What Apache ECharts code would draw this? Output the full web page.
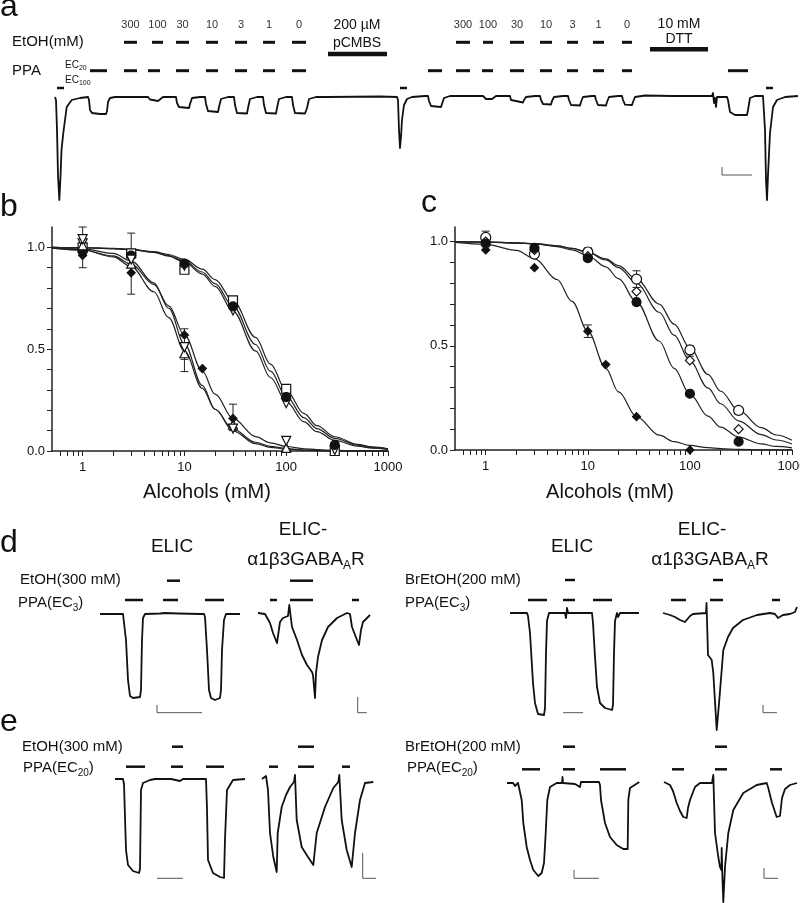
<!DOCTYPE html>
<html>
<head>
<meta charset="utf-8">
<script src="https://cdn.jsdelivr.net/npm/echarts@6/dist/echarts.min.js"></script>
<style>
  html, body { margin: 0; padding: 0; background: #fff; }
  #chart { width: 800px; height: 903px; }
</style>
</head>
<body>
<div id="chart"></div>
<script>
// ---------- dose-response data (panels b, c) ----------
var concX = [1, 3, 10, 30, 100, 300];
var fitX = [0.5, 1, 2, 3, 5, 7, 10, 15, 20, 30, 50, 70, 100, 150, 200, 300, 500, 700, 1000];
var xLabelValues = [1, 10, 100, 1000];
var xTickValues = [0.6, 0.7, 0.8, 0.9, 1, 2, 3, 4, 5, 6, 7, 8, 9, 10, 20, 30, 40, 50, 60, 70, 80, 90,
  100, 200, 300, 400, 500, 600, 700, 800, 900, 1000];
var yTickValues = [0, 0.1, 0.2, 0.3, 0.4, 0.5, 0.6, 0.7, 0.8, 0.9, 1.0];
var yLabelValues = [0, 0.5, 1.0];

// panel b
var bCircleY = [0.98, 0.96, 0.92, 0.71, 0.265, 0.03];
var bSquareY = [1.00, 0.97, 0.89, 0.74, 0.305, 0.0];
var bTriDownAY = [1.02, 0.95, 0.91, 0.69, 0.235, 0.005];
var bDiamondX = [1, 3, 10, 15, 30];
var bDiamondY = [0.96, 0.875, 0.57, 0.405, 0.16];
var bLowX = [1, 3, 10, 30, 100];
var bTriUpY = [1.01, 0.92, 0.48, 0.13, 0.015];
var bTriDownBY = [1.04, 0.94, 0.51, 0.11, 0.05];
var bErr = [[1, 0.90, 1.10], [3, 0.77, 1.07], [10, 0.39, 0.52], [10, 0.45, 0.60], [30, 0.10, 0.23], [100, 0.0, 0.07]];

var bFitCircle = [1.0, 0.998, 0.994, 0.989, 0.976, 0.96, 0.932, 0.879, 0.822, 0.71, 0.523, 0.392, 0.268, 0.163, 0.11, 0.062, 0.029, 0.017, 0.01];
var bFitSquare = [1.0, 0.998, 0.995, 0.99, 0.979, 0.965, 0.941, 0.893, 0.842, 0.738, 0.558, 0.427, 0.298, 0.184, 0.125, 0.07, 0.033, 0.02, 0.011];
var bFitTriDownA = [1.0, 0.998, 0.994, 0.989, 0.975, 0.957, 0.927, 0.869, 0.808, 0.687, 0.492, 0.361, 0.242, 0.143, 0.095, 0.052, 0.024, 0.014, 0.008];
var bFitDiamond = [0.996, 0.987, 0.958, 0.918, 0.818, 0.713, 0.57, 0.392, 0.279, 0.16, 0.071, 0.04, 0.022, 0.011, 0.0065, 0.003, 0.001, 0.0005, 0.0003];
var bFitTriUp = [0.996, 0.987, 0.953, 0.905, 0.782, 0.655, 0.491, 0.308, 0.205, 0.107, 0.043, 0.023, 0.012, 0.005, 0.003, 0.001, 0.0005, 0.0002, 0.0001];
var bFitTriDownB = [0.998, 0.993, 0.97, 0.933, 0.826, 0.701, 0.526, 0.321, 0.205, 0.099, 0.036, 0.018, 0.009, 0.004, 0.002, 0.001, 0.0003, 0.0002, 0.0001];

// panel c
var cOpenCircleY = [1.02, 0.94, 0.95, 0.82, 0.48, 0.19];
var cOpenDiamondY = [1.0, 0.96, 0.93, 0.76, 0.43, 0.10];
var cCircleY = [0.99, 0.97, 0.92, 0.71, 0.27, 0.04];
var cDiamondX = [1, 3, 10, 15, 30, 100];
var cDiamondY = [0.96, 0.875, 0.57, 0.41, 0.16, 0.0];
var cErr = [[1, 0.99, 1.05], [10, 0.93, 0.97], [10, 0.54, 0.60], [30, 0.78, 0.86], [100, 0.45, 0.50], [300, 0.17, 0.20]];

var cFitOpenCircle = [1.0, 0.997, 0.993, 0.989, 0.979, 0.967, 0.949, 0.917, 0.885, 0.82, 0.70, 0.604, 0.49, 0.363, 0.282, 0.19, 0.107, 0.072, 0.047];
var cFitOpenDiamond = [1.0, 0.998, 0.994, 0.99, 0.98, 0.968, 0.948, 0.912, 0.875, 0.80, 0.661, 0.551, 0.427, 0.298, 0.222, 0.14, 0.074, 0.048, 0.029];
var cFitCircle = [1.0, 0.998, 0.994, 0.989, 0.976, 0.96, 0.932, 0.879, 0.822, 0.71, 0.523, 0.392, 0.268, 0.163, 0.11, 0.062, 0.029, 0.017, 0.01];
var cFitDiamond = [0.996, 0.987, 0.958, 0.918, 0.818, 0.713, 0.57, 0.392, 0.279, 0.16, 0.071, 0.04, 0.022, 0.011, 0.0065, 0.003, 0.001, 0.0005, 0.0003];

// ---------- current traces: [time, current re. baseline] ----------
// panel a
var traceA = [[0,0],[1,-3],[2,-33],[3,-78],[4.3,-103],[5.5,-80],[6.5,-53],[8.3,-36],[11.7,-10],[16.7,-3],[25,-1],[33,0],
  [34,-3],[35,-13],[37,-16],[45,-17],[51,-17],[52,-14],[53,-5],[55,-1],[60,0],
  [93,0],[95,-2.5],[97,-4],[103,-4],[105,-2],[108,0],
  [121,0],[122,-6],[124,-10],[134,-11],[135,-7],[137,-1],[145,0],
  [150,0],[151,-7],[153,-14],[163,-15],[164,-10],[166,-2],[173,0],
  [179,0],[180,-8],[182,-16],[192,-16.5],[193,-11],[195,-2],[202,0],
  [208,0],[209,-8],[211,-16],[221,-16.5],[222,-11],[224,-2],[231,0],
  [237,0],[238,-8],[240,-16],[250,-16.5],[252,-11],[254,-2],[261,0],
  [270,0],[271,-2],[273,0],[325,0.5],[326,2.5],[327,0],[342,0],
  [343,-3],[344,-33],[345,-51],[346,-40],[347,-23],[349,-8],[352,-2],[357,0],
  [370,1],[373,1],[374,-4],[376,-9],[386,-10],[387,-7],[389,-1],[395,1],
  [428,1],[429,-1],[431,-2],[437,-2],[438,-0.5],[441,1],
  [455,1],[456,-3],[458,-5],[468,-5.5],[469,-3],[471,0],[480,1],
  [485,1],[486,-3],[488,-7],[496,-7.5],[497,-4],[499,0],[508,1],
  [513,1],[514,-3],[516,-8],[525,-8.5],[526,-5],[528,0],[537,1],
  [540,1],[541,-3],[543,-8],[551,-8.5],[552,-5],[554,0],[563,1],
  [567,1],[568,-3],[570,-7.7],[577,-8],[578,-5],[580,0],[590,1.5],
  [617,1],[618,-1],[619,1],[657,1],[658,4],[659,-6],[660,-1],[661,-10],[662,0],[665,0],
  [672,0],[673,-3],[675,-15],[680,-18],[692,-18],[693,-13],[695,-1],[700,1],[708,1],
  [709,-1],[710,-33],[711,-83],[712,-103],[713,-78],[715,-36],[718,-10],[722,-3],[730,0],[743,1]];
var aEtohOn = [[69,82],[97,108],[121,134],[151,163],[180,192],[208,220],[237,251],
  [401,415],[428,438],[455,469],[485,497],[512,523],[538,549],[567,577]];
var aPpaOn = [[35,52],[69,82],[93,105],[121,134],[151,163],[180,192],[208,220],[237,251],
  [373,387],[401,415],[427,438],[455,469],[485,497],[512,523],[538,549],[567,577],[673,693]];
var aPpaMaxOn = [[2,9],[345,352],[711,718]];
var aPcmbsOn = [[273,332]];
var aDttOn = [[595,653]];
var doseLabels = ['300', '100', '30', '10', '3', '1', '0', '300', '100', '30', '10', '3', '1', '0'];

// panel d, EtOH
var traceD1Elic = [[0,0],[23,0],[24,-2],[26,-26],[28,-66],[30,-82],[33,-84],[40,-83],[41,-76],[42,-26],[43,-4],[45,0],
  [60,0.5],[65,1],[78,0.5],[100,0],[104,0],[105,-3],[107,-36],[109,-76],[111,-84],[115,-86],[120,-84],[121,-76],
  [122,-36],[124,-6],[126,0],[140,0]];
var traceD1Chim = [[158,1],[165,0],[170,-9],[173,-19],[177,-29],[180,-8],[183,-4],[188,-2],[189.3,9],[192,-13],[197,-26],
  [202,-41],[207,-51],[212,-58],[213,-61],[215,-84],[216,-59],[218,-43],[222,-26],[228,-13],[237,-4],[247,1],[250,0],
  [252,-13],[257,-26],[259,-31],[261,-16],[263,-8],[270,-1]];
var d1DrugOn = [[67,80],[190,213]];
var d1PpaOn = [[25,43],[63,78],[105,124],[170,177],[190,213],[252,259]];

// panel d, BrEtOH
var traceD2Elic = [[10,0],[27,0],[28,-3],[30,-20],[33,-70],[35,-90],[38,-101],[44,-102],[45,-95],[46,-40],[47,-8],[49,0],
  [65,0],[66,-5],[67,5],[68,0],[70,2],[73,0],[92,0],[93,-10],[95,-44],[97,-74],[100,-90],[105,-95],[112,-97],[113,-92],
  [114,-40],[115,-8],[117,0],[118,-4],[120,0],[139,0]];
var traceD2Chim = [[163,0],[170,-2],[175,-4],[180,-7],[185,-9],[187,-7],[190,-3],[193,-1],[206,0],[206.5,10],[208,-42],
  [211.7,-47],[213.3,-60],[216.7,-117],[219.3,-87],[223.3,-37],[228,-24],[233,-15],[243,-7],[257,-2],[270,0],
  [275,-1],[278,-5],[280,-7],[283,-2],[290,-1],[295,1],[297,6]];
var d2DrugOn = [[65,75],[213,223]];
var d2PpaOn = [[28,47],[63,75],[93,112],[171,186],[210,223],[272,280]];

// panel e, EtOH
var traceE1Elic = [[15,0],[23,0],[24,-5],[26,-71],[28,-86],[33,-92],[39,-94],[40,-90],[41,-11],[43,-4],[50,-1],[55,0],
  [71,0],[73,-2],[80,-2],[83,0],[106,0],[107,-30],[108,-81],[113,-94],[120,-98],[124,-99],[125,-60],[127,-11],
  [133,-1],[145,0]];
var traceE1Chim = [[162,0],[166,3],[167,4],[168,-11],[170,-54],[173.3,-78],[176.7,-93],[177.7,-54],[181.7,-28],[186,-16],
  [190,-8],[194,-3],[195,4],[196.7,-41],[201.7,-68],[206.7,-76],[213.3,-86],[215,-88],[216.7,-54],[225,-28],[233.3,-9],
  [238.3,-3],[239.3,4],[241.7,-41],[246.7,-71],[251.7,-88],[253.3,-89],[255,-54],[260,-21],[265,-4],[273.3,-3]];
var e1DrugOn = [[72,83],[198,214]];
var e1PpaOn = [[26,45],[71,83],[106,124],[169,178],[198,214],[242,250]];

// panel e, BrEtOH
var traceE2Elic = [[7,0],[13,0],[15,-3],[18,0],[20,0],[21.7,-17],[23.3,-40],[26.7,-64],[30,-77],[33.3,-87],[38.3,-93],
  [41.7,-90],[44,-80],[45.7,-50],[47.3,-17],[50,-4],[56.7,0],[62,0],[62.5,6],[63,0],[75,-1],[80,-4],[81,1],[99,1],
  [100,-2],[101,-17],[105,-40],[110,-54],[116.7,-62],[123.3,-66],[127.7,-66],[128.3,-17],[130,-5],[139.3,1]];
var traceE2Chim = [[164,1],[170,-2],[173,-8],[176.7,-20],[180,-28],[183.3,-34],[186.7,-35],[188,-25],[190,-17],[195,-4],
  [200,0],[212,0],[213.3,8],[215,-50],[218.3,-74],[220,-84],[221.5,-87],[221.7,-65],[222.2,-88],[223.3,-119],[225,-84],
  [228.3,-50],[233.3,-27],[243.3,-10],[256.7,-2],[266.7,0],[268.3,-5],[272,-20],[276.7,-34],[280,-33],[282,-15],
  [285,-6],[290,-2],[297,0]];
var e2DrugOn = [[63,75],[215,227]];
var e2PpaOn = [[22,40],[63,75],[100,126],[172,184],[215,227],[270,282]];

// ---------- helpers ----------
var FONT = '"Liberation Sans", Arial, Helvetica, sans-serif';
var INK = '#111';
function font(size) { return size + 'px ' + FONT; }
var measureCtx = document.createElement('canvas').getContext('2d');
function textWidth(s, size) { measureCtx.font = font(size); return measureCtx.measureText(s).width; }

function label(x, y, text, size, align, color) {
  align = align || 'left';
  return {
    type: 'text', x: x, y: y, silent: true,
    style: { text: text, font: font(size), fill: color || INK,
      align: align, verticalAlign: 'middle', textAlign: align, textVerticalAlign: 'middle' }
  };
}
// parts: [[text, isSubscript], ...]
function subLabel(x, y, parts, size, align) {
  var subSize = Math.round(size * 0.65);
  var total = 0;
  parts.forEach(function (p) { total += textWidth(p[0], p[1] ? subSize : size); });
  var cx = align === 'center' ? x - total / 2 : x;
  var out = [];
  parts.forEach(function (p) {
    var s = p[1] ? subSize : size;
    out.push(label(cx, y + (p[1] ? size * 0.32 : 0), p[0], s, 'left'));
    cx += textWidth(p[0], s);
  });
  return out;
}
function scaleBar(points) {
  return { type: 'polyline', silent: true, shape: { points: points }, style: { stroke: '#555', lineWidth: 1, fill: null } };
}

var grids = [], xAxes = [], yAxes = [], series = [];

function addDoseGrid(box, yMax) {
  var idx = grids.length;
  grids.push({ left: box[0], top: box[1], width: box[2], height: box[3], containLabel: false, outerBoundsMode: 'none' });
  xAxes.push({
    type: 'log', logBase: 10, gridIndex: idx, min: 0.5, max: 1000,
    axisLine: { show: true, onZero: false, lineStyle: { color: '#222', width: 1.5 } },
    axisTick: { show: true, inside: false, length: 5, customValues: xTickValues, lineStyle: { color: '#222', width: 1 } },
    axisLabel: { show: true, customValues: xLabelValues, fontSize: 13, fontFamily: FONT, color: INK, margin: 10,
      formatter: function (v) { return String(Math.round(v)); } },
    splitLine: { show: false }, minorTick: { show: false }, minorSplitLine: { show: false }
  });
  yAxes.push({
    type: 'value', gridIndex: idx, min: 0, max: yMax,
    axisLine: { show: true, onZero: false, lineStyle: { color: '#222', width: 1.5 } },
    axisTick: { show: true, inside: false, length: 5, customValues: yTickValues, lineStyle: { color: '#222', width: 1 } },
    axisLabel: { show: true, customValues: yLabelValues, fontSize: 13, fontFamily: FONT, color: INK, margin: 7,
      formatter: function (v) { return v.toFixed(1); } },
    splitLine: { show: false }
  });
  return idx;
}

function addTraceGrid(box, tMax, iMin, iMax) {
  var idx = grids.length;
  grids.push({ left: box[0], top: box[1], width: box[2], height: box[3], containLabel: false, outerBoundsMode: 'none' });
  xAxes.push({ type: 'value', gridIndex: idx, min: 0, max: tMax, show: false });
  yAxes.push({ type: 'value', gridIndex: idx, min: iMin, max: iMax, show: false });
  return idx;
}

var MARK = {
  circleFilled: { symbol: 'circle', size: 9, filled: true },
  circleOpen: { symbol: 'circle', size: 10, filled: false },
  square: { symbol: 'rect', size: 9, filled: false },
  triUp: { symbol: 'triangle', size: 9, filled: false },
  triDown: { symbol: 'triangle', size: 9, filled: false, rotate: 180 },
  diamondFilled: { symbol: 'diamond', size: 8, filled: true },
  diamondOpen: { symbol: 'diamond', size: 9, filled: false }
};

function fitSeries(idx, ys) {
  return {
    type: 'line', xAxisIndex: idx, yAxisIndex: idx, silent: true, z: 2,
    data: fitX.map(function (x, i) { return [x, ys[i]]; }),
    showSymbol: false, symbol: 'none', smooth: 0.35, smoothMonotone: 'x', clip: false,
    lineStyle: { color: '#222', width: 1.2 }
  };
}
function pointSeries(idx, xs, ys, m) {
  return {
    type: 'scatter', xAxisIndex: idx, yAxisIndex: idx, silent: true, z: 4, clip: false,
    data: xs.map(function (x, i) { return [x, ys[i]]; }),
    symbol: m.symbol, symbolSize: m.size, symbolRotate: m.rotate || 0,
    itemStyle: { color: m.filled ? INK : '#fff', borderColor: INK, borderWidth: 1.2, opacity: 1 }
  };
}
function errorSeries(idx, data) {
  return {
    type: 'custom', xAxisIndex: idx, yAxisIndex: idx, silent: true, z: 3, clip: false,
    data: data, encode: { x: 0, y: [1, 2] },
    renderItem: function (params, api) {
      var lo = api.coord([api.value(0), api.value(1)]);
      var hi = api.coord([api.value(0), api.value(2)]);
      var w = 4, st = { stroke: '#222', lineWidth: 1 };
      return { type: 'group', children: [
        { type: 'line', shape: { x1: lo[0], y1: lo[1], x2: hi[0], y2: hi[1] }, style: st },
        { type: 'line', shape: { x1: lo[0] - w, y1: lo[1], x2: lo[0] + w, y2: lo[1] }, style: st },
        { type: 'line', shape: { x1: hi[0] - w, y1: hi[1], x2: hi[0] + w, y2: hi[1] }, style: st }
      ] };
    }
  };
}
function traceSeries(idx, data) {
  return {
    type: 'line', xAxisIndex: idx, yAxisIndex: idx, silent: true, z: 3, clip: false,
    data: data, showSymbol: false, symbol: 'none',
    lineStyle: { color: INK, width: 1.8, join: 'round' }
  };
}
function applicationSeries(idx, intervals, level, width) {
  return {
    type: 'custom', xAxisIndex: idx, yAxisIndex: idx, silent: true, z: 3, clip: false,
    data: intervals.map(function (iv) { return [iv[0], iv[1], level]; }),
    encode: { x: [0, 1], y: 2 },
    renderItem: function (params, api) {
      var a = api.coord([api.value(0), api.value(2)]);
      var b = api.coord([api.value(1), api.value(2)]);
      return { type: 'line', shape: { x1: a[0], y1: a[1], x2: b[0], y2: b[1] }, style: { stroke: INK, lineWidth: width } };
    }
  };
}
function doseLabelSeries(idx, intervals, labels, level) {
  return {
    type: 'custom', xAxisIndex: idx, yAxisIndex: idx, silent: true, z: 3, clip: false,
    data: intervals.map(function (iv) { return [(iv[0] + iv[1]) / 2, level]; }),
    encode: { x: 0, y: 1 },
    renderItem: function (params, api) {
      var p = api.coord([api.value(0), api.value(1)]);
      return { type: 'text', x: p[0], y: p[1], style: { text: labels[params.dataIndex], font: font(11), fill: '#333',
        align: 'center', verticalAlign: 'middle', textAlign: 'center', textVerticalAlign: 'middle' } };
    }
  };
}

// ---------- panels b, c ----------
var gB = addDoseGrid([52, 227, 336, 224], 1.1);
series.push(fitSeries(gB, bFitCircle), fitSeries(gB, bFitSquare), fitSeries(gB, bFitTriDownA),
  fitSeries(gB, bFitDiamond), fitSeries(gB, bFitTriUp), fitSeries(gB, bFitTriDownB));
series.push(errorSeries(gB, bErr));
series.push(pointSeries(gB, concX, bSquareY, MARK.square), pointSeries(gB, concX, bTriDownAY, MARK.triDown),
  pointSeries(gB, concX, bCircleY, MARK.circleFilled), pointSeries(gB, bLowX, bTriUpY, MARK.triUp),
  pointSeries(gB, bLowX, bTriDownBY, MARK.triDown), pointSeries(gB, bDiamondX, bDiamondY, MARK.diamondFilled));

var gC = addDoseGrid([455, 227, 337, 223], 1.07);
series.push(fitSeries(gC, cFitOpenCircle), fitSeries(gC, cFitOpenDiamond), fitSeries(gC, cFitCircle), fitSeries(gC, cFitDiamond));
series.push(errorSeries(gC, cErr));
series.push(pointSeries(gC, concX, cOpenCircleY, MARK.circleOpen), pointSeries(gC, concX, cOpenDiamondY, MARK.diamondOpen),
  pointSeries(gC, concX, cCircleY, MARK.circleFilled), pointSeries(gC, cDiamondX, cDiamondY, MARK.diamondFilled));

// ---------- panel a ----------
var gA = addTraceGrid([55, 0, 745, 210], 745, -113, 97);
series.push(traceSeries(gA, traceA));
series.push(applicationSeries(gA, aEtohOn, 54.7, 3), applicationSeries(gA, aPpaOn, 26.3, 3),
  applicationSeries(gA, aPpaMaxOn, 9, 2.5), applicationSeries(gA, aPcmbsOn, 43, 4.5), applicationSeries(gA, aDttOn, 47.7, 4.5));
series.push(doseLabelSeries(gA, aEtohOn, doseLabels, 72));

// ---------- panels d, e ----------
var gD1 = addTraceGrid([100, 570, 280, 150], 280, -106, 44);
series.push(traceSeries(gD1, traceD1Elic), traceSeries(gD1, traceD1Chim),
  applicationSeries(gD1, d1DrugOn, 33.3, 2.5), applicationSeries(gD1, d1PpaOn, 14, 2.5));
var gD2 = addTraceGrid([500, 570, 300, 165], 300, -122, 43);
series.push(traceSeries(gD2, traceD2Elic), traceSeries(gD2, traceD2Chim),
  applicationSeries(gD2, d2DrugOn, 33, 2.5), applicationSeries(gD2, d2PpaOn, 13, 2.5));
var gE1 = addTraceGrid([100, 735, 290, 150], 290, -106, 44);
series.push(traceSeries(gE1, traceE1Elic), traceSeries(gE1, traceE1Chim),
  applicationSeries(gE1, e1DrugOn, 32.3, 2.5), applicationSeries(gE1, e1PpaOn, 12.3, 2.5));
var gE2 = addTraceGrid([500, 735, 300, 168], 300, -120, 48);
series.push(traceSeries(gE2, traceE2Elic), traceSeries(gE2, traceE2Chim),
  applicationSeries(gE2, e2DrugOn, 36.3, 2.5), applicationSeries(gE2, e2PpaOn, 13.7, 2.5));

// ---------- texts and scale bars ----------
var elements = [
  label(0, 7, 'a', 32), label(0, 207, 'b', 32), label(421, 203, 'c', 32), label(0, 543, 'd', 32), label(0, 722, 'e', 32),
  label(12, 42, 'EtOH(mM)', 15), label(12, 71, 'PPA', 15),
  label(357, 25, '200 µM', 14, 'center'), label(357, 43, 'pCMBS', 14, 'center'),
  label(679, 24, '10 mM', 14, 'center'), label(679, 39, 'DTT', 14, 'center'),
  label(207, 492, 'Alcohols (mM)', 20, 'center'), label(610, 492, 'Alcohols (mM)', 20, 'center'),
  label(172, 547, 'ELIC', 19, 'center'), label(303, 530, 'ELIC-', 19, 'center'),
  label(572, 547, 'ELIC', 19, 'center'), label(702, 530, 'ELIC-', 19, 'center'),
  label(20, 580, 'EtOH(300 mM)', 15), label(405, 580, 'BrEtOH(200 mM)', 15),
  label(22, 747, 'EtOH(300 mM)', 15), label(405, 747, 'BrEtOH(200 mM)', 15),
  scaleBar([[722, 167], [722, 175], [752, 175]]),
  scaleBar([[157, 705], [157, 712.7], [202, 712.7]]),
  scaleBar([[357.7, 697], [357.7, 712.7], [366.7, 712.7]]),
  scaleBar([[563, 712.7], [583, 712.7]]),
  scaleBar([[763, 705], [763, 712.7], [777, 712.7]]),
  scaleBar([[157, 878.3], [183, 878.3]]),
  scaleBar([[362.7, 853], [362.7, 878.3], [376, 878.3]]),
  scaleBar([[574, 870], [574, 878.3], [599, 878.3]]),
  scaleBar([[764, 868], [764, 878.3], [778, 878.3]])
];
elements = elements
  .concat(subLabel(65, 65, [['EC', 0], ['20', 1]], 10))
  .concat(subLabel(65, 80, [['EC', 0], ['100', 1]], 10))
  .concat(subLabel(306, 560, [['α1β3GABA', 0], ['A', 1], ['R', 0]], 19, 'center'))
  .concat(subLabel(710, 560, [['α1β3GABA', 0], ['A', 1], ['R', 0]], 19, 'center'))
  .concat(subLabel(18, 603, [['PPA(EC', 0], ['3', 1], [')', 0]], 15))
  .concat(subLabel(405, 603, [['PPA(EC', 0], ['3', 1], [')', 0]], 15))
  .concat(subLabel(23, 768, [['PPA(EC', 0], ['20', 1], [')', 0]], 15))
  .concat(subLabel(407, 768, [['PPA(EC', 0], ['20', 1], [')', 0]], 15));

var chart = echarts.init(document.getElementById('chart'), null, { renderer: 'canvas' });
chart.setOption({
  backgroundColor: '#fff',
  animation: false,
  textStyle: { fontFamily: FONT },
  grid: grids,
  xAxis: xAxes,
  yAxis: yAxes,
  series: series,
  graphic: { elements: elements }
});
</script>
</body>
</html>
